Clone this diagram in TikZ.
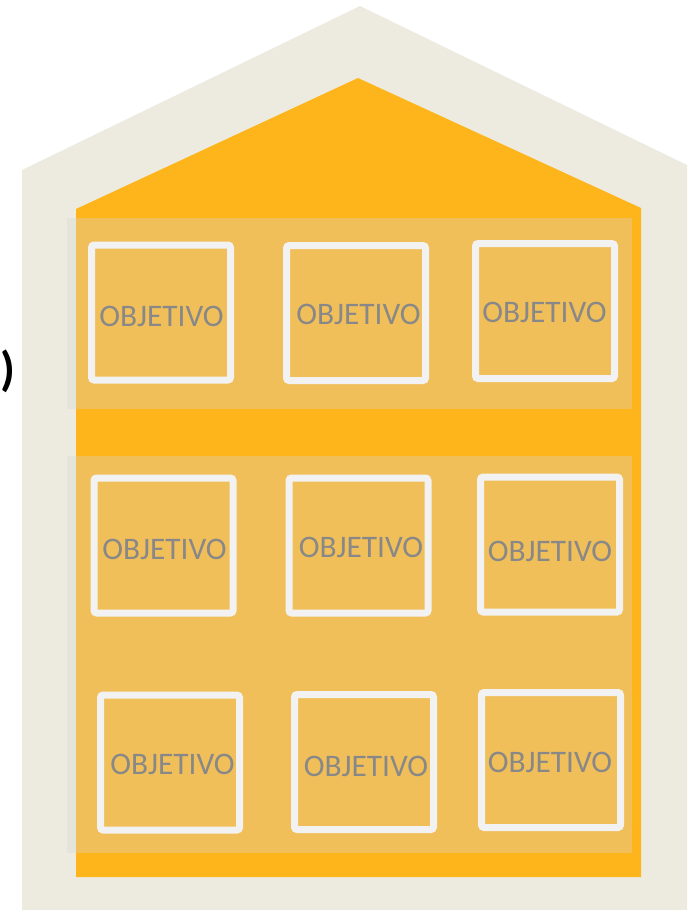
\documentclass[tikz,border=0pt]{standalone}
\usepackage{fontspec}
\setmainfont{Carlito}
\definecolor{housewall}{HTML}{EDEBE0}
\definecolor{houseorange}{HTML}{FDB51B}
\definecolor{panelfill}{HTML}{F1BF5A}
\definecolor{paneledge}{HTML}{E5E4DB}
\definecolor{goalframe}{HTML}{F2F2F2}
\definecolor{goalink}{HTML}{888888}
\tikzset{
  goalbox/.style={draw=goalframe, line width=5.25pt, rounded corners=2pt,
                  minimum width=104.25pt, minimum height=101.25pt, inner sep=0pt},
  goaltext/.style={text=goalink, font=\fontsize{23.5}{28}\selectfont,
                   inner sep=0pt, anchor=base},
}

\begin{document}
\begin{tikzpicture}[x=0.75pt, y=-0.75pt]
    \useasboundingbox (0,0) rectangle (687,910);
    % house
    \fill[housewall] (22,910) -- (22,170) -- (360,6) -- (687,165) -- (687,910) -- cycle;
    \fill[houseorange] (76,877) -- (76,209) -- (358,78) -- (641,208) -- (641,877) -- cycle;
    % floors
    \fill[paneledge] (67,218) rectangle (632,409);
    \fill[panelfill] (76,218) rectangle (632,409);
    \fill[paneledge] (67,456) rectangle (632,853);
    \fill[panelfill] (76,456) rectangle (632,853);
    % windows
    \node[goalbox] (b1) at (161,312.5) {};
    \node[goalbox] (b2) at (356,313) {};
    \node[goalbox] (b3) at (545,311) {};
    \node[goalbox] (b4) at (163.5,545.5) {};
    \node[goalbox] (b5) at (358.5,545.5) {};
    \node[goalbox] (b6) at (550,544.5) {};
    \node[goalbox] (b7) at (170,762.5) {};
    \node[goalbox] (b8) at (364,762) {};
    \node[goalbox] (b9) at (551,760) {};
    \node[goaltext] (t1) at (161.5,326) {OBJETIVO};
    \node[goaltext] (t2) at (358.5,324) {OBJETIVO};
    \node[goaltext] (t3) at (544.5,322) {OBJETIVO};
    \node[goaltext] (t4) at (164.5,559) {OBJETIVO};
    \node[goaltext] (t5) at (361,557) {OBJETIVO};
    \node[goaltext] (t6) at (550,561) {OBJETIVO};
    \node[goaltext] (t7) at (172.5,774) {OBJETIVO};
    \node[goaltext] (t8) at (366,776) {OBJETIVO};
    \node[goaltext] (t9) at (550,772) {OBJETIVO};
    % cut-off label at the left edge
    \node[font=\bfseries\fontsize{36}{42}\selectfont, anchor=base east, inner sep=0pt] (cut) at (16,385) {s)};
\end{tikzpicture}
\end{document}
